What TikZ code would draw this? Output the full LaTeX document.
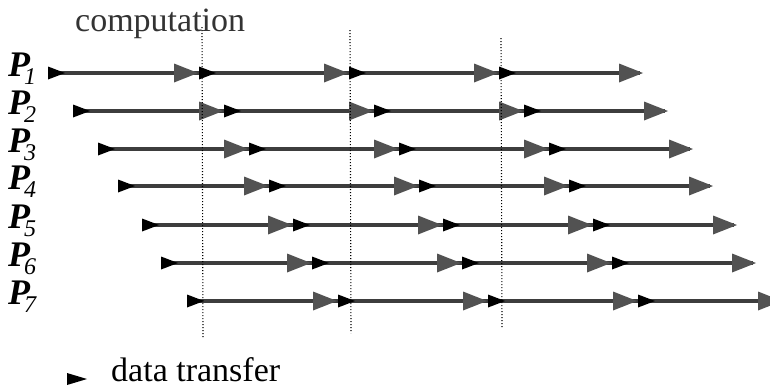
\documentclass[tikz,border=0pt]{standalone}
\usepackage{fontspec}
\setmainfont{Liberation Serif}
\newfontfamily\tnr{Liberation Serif}
\newcommand{\plab}[1]{{\bfseries\itshape P}\kern-6pt\raisebox{-8pt}{\mdseries\itshape\fontsize{24}{24}\selectfont #1}}
\begin{document}
\begin{tikzpicture}[x=1pt,y=-1pt,
  rowline/.style={line width=4pt,draw=black!76},
  comphead/.style={fill=black!68},
  datahead/.style={fill=black},
  vline/.style={line width=1.1pt,dash pattern=on 1.2pt off 1.8pt,draw=black},
  plabel/.style={inner sep=0pt,anchor=base west,font=\tnr\fontsize{36}{36}\selectfont},
  txt/.style={inner sep=0pt,anchor=base west,font=\tnr\fontsize{34}{34}\selectfont}]
\useasboundingbox (0,0) rectangle (770,389);
\clip (0,0) rectangle (770,389);

% computation label
\node[txt,text=black!80] (comp) at (75,31) {computation};

% rows
\foreach \k/\s/\y in {1/48/73,2/73/111,3/98/149,4/118/186,5/142/225,6/161/263,7/187/301}{
  \coordinate (r\k s) at (\s,\y);
  \coordinate (r\k e) at ({\s+592},\y);
  \draw[rowline] (r\k s) -- (r\k e);
  % computation heads (tips)
  \foreach \t in {150,300,450,595}{
    \fill[comphead] ({\s+\t-24},{\y-9.5}) -- ({\s+\t},\y) -- ({\s+\t-24},{\y+9.5}) -- cycle;
  }
  % data transfer heads (bases)
  \foreach \b in {0,151,301,451}{
    \fill[datahead] ({\s+\b},{\y-6.5}) -- ({\s+\b+17},\y) -- ({\s+\b},{\y+6.5}) -- cycle;
  }
  \node[plabel] (p\k) at (8,{\y+3}) {\plab{\k}};
}

% vertical dotted lines
\coordinate (v1t) at (202,27);  \coordinate (v1b) at (203,338);
\coordinate (v2t) at (350,30);  \coordinate (v2b) at (351,333);
\coordinate (v3t) at (501,38);  \coordinate (v3b) at (502,328);
\draw[vline] (v1t) -- (v1b);
\draw[vline] (v2t) -- (v2b);
\draw[vline] (v3t) -- (v3b);

% legend
\fill[datahead] (67,373) -- (87,379) -- (67,385) -- cycle;
\node[txt] (dt) at (111,381) {data transfer};
\end{tikzpicture}
\end{document}
